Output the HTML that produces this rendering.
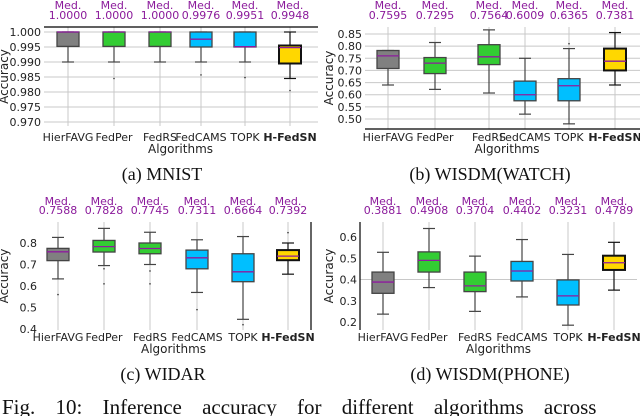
<!DOCTYPE html>
<html><head><meta charset="utf-8"><style>
body{margin:0;background:#fff}
svg{display:block}
text{font-family:"DejaVu Sans","Liberation Sans",sans-serif}
.cap{font-family:"Liberation Serif",serif}
</style></head><body>
<svg id="fig" width="640" height="416" viewBox="0 0 640 416"></svg>
<script>
const algorithms=["HierFAVG","FedPer","FedRS","FedCAMS","TOPK","H-FedSN"];
const boxColors=["#808080","#33cc33","#33cc33","#00bfff","#00bfff","#ffd700"];
// panel a MNIST
const aQ1=[0.9952,0.9952,0.9952,0.995,0.995,0.9895];
const aQ3=[1.0,1.0,1.0,1.0,1.0,0.9955];
const aMed=[1.0,1.0,1.0,0.9976,0.9951,0.9948];
const aLow=[0.990,0.990,0.990,0.990,0.990,0.9845];
const aHigh=[1.0,1.0,1.0,1.0,1.0,1.0];
const aOut=[[],[0.9845],[],[0.9857],[0.9848],[0.9805]];
const aTicks=[1.000,0.995,0.990,0.985,0.980,0.975,0.970];
const aMedLabels=["1.0000","1.0000","1.0000","0.9976","0.9951","0.9948"];
// panel b WISDM watch
const bQ1=[0.708,0.687,0.724,0.575,0.575,0.70];
const bQ3=[0.782,0.753,0.806,0.656,0.666,0.79];
const bMed=[0.760,0.730,0.756,0.600,0.637,0.738];
const bLow=[0.64,0.622,0.607,0.52,0.48,0.64];
const bHigh=[0.782,0.815,0.867,0.75,0.79,0.856];
const bOut=[[],[],[],[],[0.81],[]];
const bTicks=[0.85,0.80,0.75,0.70,0.65,0.60,0.55,0.50];
const bMedLabels=["0.7595","0.7295","0.7564","0.6009","0.6365","0.7381"];
// panel c WIDAR
const cQ1=[0.718,0.758,0.75,0.68,0.62,0.72];
const cQ3=[0.775,0.812,0.80,0.767,0.75,0.767];
const cMed=[0.759,0.783,0.7745,0.731,0.666,0.739];
const cLow=[0.633,0.695,0.70,0.57,0.445,0.655];
const cHigh=[0.826,0.868,0.85,0.815,0.83,0.80];
const cOut=[[0.56],[0.68,0.61],[0.67,0.61],[0.49],[0.42],[0.848]];
const cTicks=[0.8,0.7,0.6,0.5,0.4];
const cMedLabels=["0.7588","0.7828","0.7745","0.7311","0.6664","0.7392"];
// panel d WISDM phone
const dQ1=[0.335,0.435,0.343,0.393,0.28,0.445];
const dQ3=[0.435,0.53,0.435,0.485,0.398,0.512];
const dMed=[0.388,0.49,0.37,0.44,0.323,0.479];
const dLow=[0.237,0.362,0.25,0.318,0.185,0.35];
const dHigh=[0.528,0.64,0.51,0.588,0.518,0.575];
const dOut=[[],[],[],[],[],[]];
const dTicks=[0.6,0.5,0.4,0.3,0.2];
const dMedLabels=["0.3881","0.4908","0.3704","0.4402","0.3231","0.4789"];

const NS="http://www.w3.org/2000/svg";
const svg=document.getElementById("fig");
function mk(tag,attrs,parent,txt){const e=document.createElementNS(NS,tag);for(const k in attrs)e.setAttribute(k,attrs[k]);if(txt!==undefined)e.textContent=txt;(parent||svg).appendChild(e);return e;}

const panels=[
 {id:"a",q1:aQ1,q3:aQ3,med:aMed,lo:aLow,hi:aHigh,out:aOut,ticks:aTicks,ml:aMedLabels,dec:3,
  v0:1.0,y0:32,v1:0.970,y1:122,xs:[68,114,160,201,245,290],left:44,right:318,top:27,bottom:126,titleX:8,
  topLine:true,grid:"all",cap:"(a) MNIST",capX:162,capY:180,labY:141,algY:153,medY:9,valY:19,capName:"caption-mnist"},
 {id:"b",q1:bQ1,q3:bQ3,med:bMed,lo:bLow,hi:bHigh,out:bOut,ticks:bTicks,ml:bMedLabels,dec:2,
  v0:0.85,y0:34,v1:0.50,y1:119,xs:[388,435,489,525,569,615],left:365,right:640,top:27,bottom:129,titleX:333,
  bottomLine:true,grid:"all",cap:"(b) WISDM(WATCH)",capX:490,capY:180,labY:141,algY:153,medY:9,valY:19,capName:"caption-wisdm-watch"},
 {id:"c",q1:cQ1,q3:cQ3,med:cMed,lo:cLow,hi:cHigh,out:cOut,ticks:cTicks,ml:cMedLabels,dec:1,
  v0:0.8,y0:243,v1:0.4,y1:329,xs:[58,104,150,197,243,288],left:40,right:311,top:222,bottom:330,titleX:8,
  rightLine:true,grid:"v",cap:"(c) WIDAR",capX:163,capY:380,labY:341,algY:353,medY:205,valY:214,capName:"caption-widar"},
 {id:"d",q1:dQ1,q3:dQ3,med:dMed,lo:dLow,hi:dHigh,out:dOut,ticks:dTicks,ml:dMedLabels,dec:1,
  v0:0.6,y0:237,v1:0.2,y1:322,xs:[383,429,475,522,568,614],left:360,right:637,top:222,bottom:330,titleX:333,
  leftLine:true,grid:"mid",cap:"(d) WISDM(PHONE)",capX:490,capY:380,labY:341,algY:353,medY:205,valY:214,capName:"caption-wisdm-phone"}
];

panels.forEach(p=>{
  const g=mk("g",{},svg);
  
  
  const y=v=>p.y0+(v-p.v0)*(p.y1-p.y0)/(p.v1-p.v0);
  p.xs.forEach(x=>{const l=mk("line",{x1:x,x2:x,y1:p.top,y2:p.bottom,stroke:"#c8c8c8","stroke-width":1},g);
    });
  p.ticks.forEach((t,i)=>{
    const yy=y(t);
    if(p.grid==="all"||(p.grid==="mid"&&Math.abs(t-0.4)<1e-6)){
      const gl=mk("line",{x1:p.left,x2:p.right,y1:yy,y2:yy,stroke:"#c8c8c8","stroke-width":1},g);
      }
    const tx=mk("text",{x:p.left-3,y:yy+4,"font-size":"11","text-anchor":"end",fill:"#222"},g,t.toFixed(p.dec));
    
  });
  if(p.topLine){const l=mk("line",{x1:p.left,x2:p.right,y1:p.top,y2:p.top,stroke:"#000","stroke-width":1.2},g);}
  if(p.bottomLine){const l=mk("line",{x1:p.left,x2:p.right,y1:p.bottom,y2:p.bottom,stroke:"#000","stroke-width":1.2},g);}
  if(p.rightLine){const l=mk("line",{x1:p.right,x2:p.right,y1:p.top,y2:p.bottom,stroke:"#000","stroke-width":1.2},g);}
  if(p.leftLine){const l=mk("line",{x1:p.left,x2:p.left,y1:p.top,y2:p.bottom,stroke:"#000","stroke-width":1.2},g);}
  const cy=(p.top+p.bottom)/2;
  const yt=mk("text",{x:0,y:0,"font-size":"12","text-anchor":"middle",fill:"#222",transform:`translate(${p.titleX},${cy}) rotate(-90)`},g,"Accuracy");
  
  algorithms.forEach((a,i)=>{
    const x=p.xs[i],w=22;
    const bg=mk("g",{},g);
    
    
    const sw=i===5?2:1.3, sc=i===5?"#111":"#444";
    mk("line",{x1:x,x2:x,y1:y(p.hi[i]),y2:y(p.q3[i]),stroke:sc,"stroke-width":1.2},bg);
    mk("line",{x1:x,x2:x,y1:y(p.q1[i]),y2:y(p.lo[i]),stroke:sc,"stroke-width":1.2},bg);
    mk("line",{x1:x-6,x2:x+6,y1:y(p.hi[i]),y2:y(p.hi[i]),stroke:sc,"stroke-width":1.2},bg);
    mk("line",{x1:x-6,x2:x+6,y1:y(p.lo[i]),y2:y(p.lo[i]),stroke:sc,"stroke-width":1.2},bg);
    const t=y(p.q3[i]),b=y(p.q1[i]);
    mk("rect",{x:x-w/2,y:t,width:w,height:Math.max(b-t,0.5),fill:boxColors[i],stroke:sc,"stroke-width":sw},bg);
    mk("line",{x1:x-w/2,x2:x+w/2,y1:y(p.med[i]),y2:y(p.med[i]),stroke:"#8e1b9e","stroke-width":1.3},bg);
    p.out[i].forEach(o=>{mk("circle",{cx:x,cy:y(o),r:0.8,fill:"#333"},bg);});
    const m1=mk("text",{x:x,y:p.medY,"font-size":"11","text-anchor":"middle",fill:"#8b1a9b"},g,"Med.");
    
    const m2=mk("text",{x:x,y:p.valY,"font-size":"11","text-anchor":"middle",fill:"#8b1a9b"},g,p.ml[i]);
    
    const xl=mk("text",{x:x,y:p.labY,"font-size":"11","text-anchor":"middle",fill:"#222","font-weight":i===5?"bold":"normal"},g,a);
    
  });
  const at=mk("text",{x:(p.xs[2]+p.xs[3])/2,y:p.algY,"font-size":"12","text-anchor":"middle",fill:"#222"},g,"Algorithms");
  
  const cp=mk("text",{x:p.capX,y:p.capY,"font-size":"18","text-anchor":"middle",fill:"#111",class:"cap"},g,p.cap);
  
});
const fc=mk("text",{x:2,y:414,"font-size":"21",fill:"#111",class:"cap","word-spacing":"15"},svg,"Fig. 10: Inference accuracy for different algorithms across");


</script>
</body></html>
